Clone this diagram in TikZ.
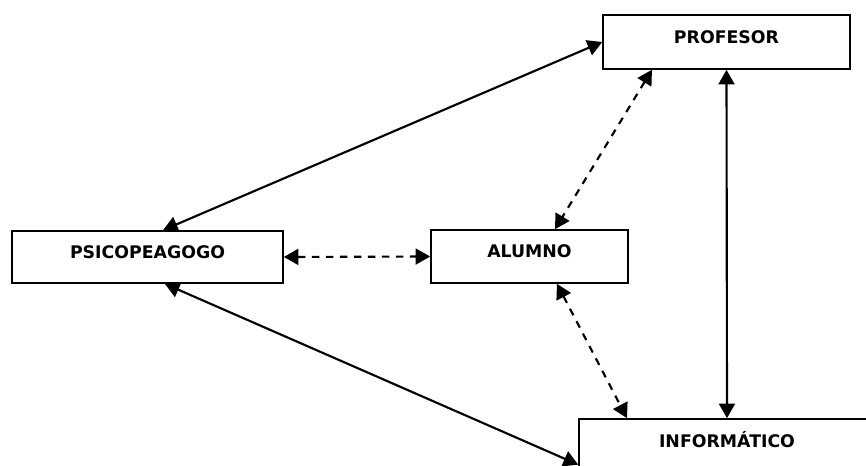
\documentclass[tikz,border=0pt]{standalone}
\usepackage{fontspec}
\setmainfont{DejaVu Sans}
\usetikzlibrary{arrows.meta}

\tikzset{
  caja/.style={draw,line width=1.2pt,fill=white,font=\bfseries\fontsize{13}{16}\selectfont,
    text height=9.4pt,text depth=7.6pt,inner sep=0pt},
  flecha/.style={<->,line width=1.6pt},
  discont/.style={<->,line width=1.6pt,dash pattern=on 5.5pt off 5pt}
}

\begin{document}
\begin{tikzpicture}[>={Triangle[length=11pt,width=12pt]},x=0.75pt,y=-0.75pt]
  \useasboundingbox (0,0) rectangle (866,466);
  \clip (0,0) rectangle (866,466);
  % cajas
  \node[caja,minimum width=247*0.75pt,minimum height=54*0.75pt] (profesor) at (726.5,42) {PROFESOR};
  \node[caja,minimum width=271*0.75pt,minimum height=52*0.75pt] (psico) at (147.5,257) {PSICOPEAGOGO};
  \node[caja,minimum width=197*0.75pt,minimum height=53*0.75pt] (alumno) at (529.5,256.5) {ALUMNO};
  \node[caja,minimum width=296*0.75pt,minimum height=54*0.75pt] (informatico) at (727,446) {INFORMÁTICO};
  % relaciones
  \draw[flecha] (profesor.west) -- ([xshift=11.6pt]psico.north);
  \draw[discont] ([xshift=-55.9pt]profesor.south) -- ([xshift=19.1pt]alumno.north);
  \draw[flecha] (profesor.south) -- (informatico.north);
  \draw[discont] (psico.east) -- (alumno.west);
  \draw[discont] ([xshift=20.6pt]alumno.south) -- ([xshift=-75pt]informatico.north);
  \draw[flecha] ([xshift=13pt]psico.south) -- ([yshift=-14pt]informatico.west);
\end{tikzpicture}
\end{document}
